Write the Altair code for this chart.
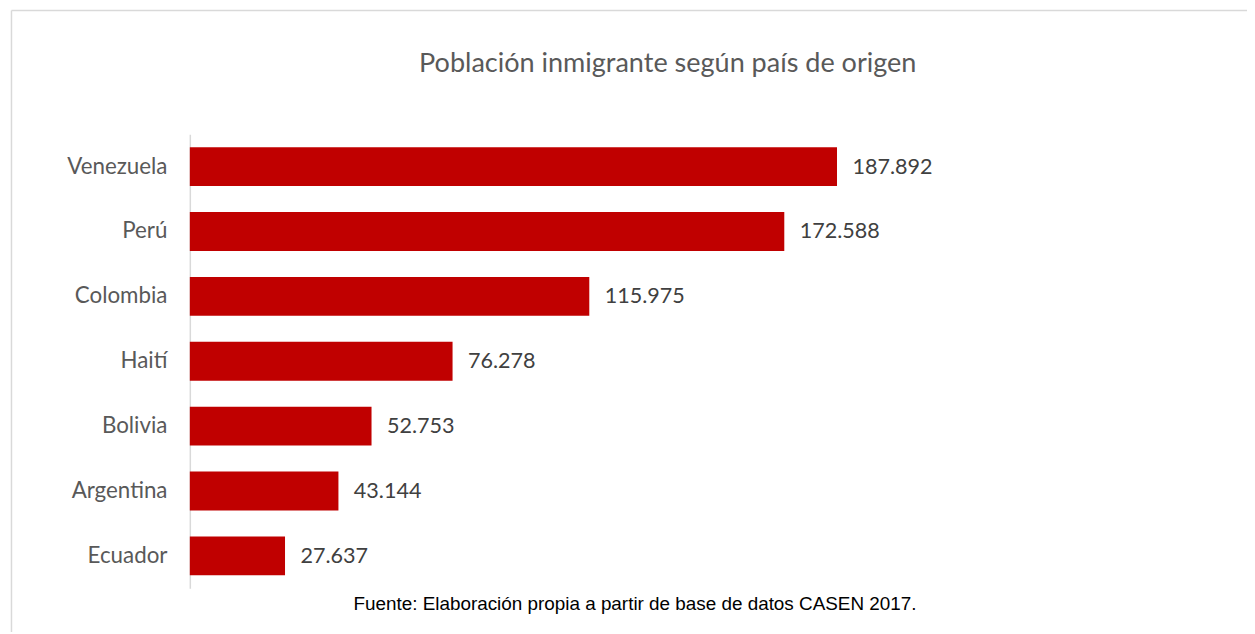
import altair as alt
import pandas as pd

paises = ["Venezuela", "Perú", "Colombia", "Haití", "Bolivia", "Argentina", "Ecuador"]
valores = [187892, 172588, 115975, 76278, 52753, 43144, 27637]
etiquetas = ["187.892", "172.588", "115.975", "76.278", "52.753", "43.144", "27.637"]
titulo = ["Población inmigrante según país de origen"]
fuente = ["Fuente: Elaboración propia a partir de base de datos CASEN 2017."]

df = pd.DataFrame({"pais": paises, "valor": valores, "etiqueta": etiquetas})

FONT = "Lato"
W, H = 1040, 457
PAD = {"left": 183, "top": 125, "right": 24, "bottom": 44}

x = alt.X("valor:Q", scale=alt.Scale(domain=[0, 300000]), axis=None)
y = alt.Y("pais:N", sort=paises,
          scale=alt.Scale(paddingInner=0.4, paddingOuter=0.2),
          axis=alt.Axis(title=None, ticks=False, labelFont=FONT, labelFontSize=22.5,
                        labelColor="#595959", labelPadding=23, domainColor="#D9D9D9",
                        domainWidth=1.5, grid=False))

bars = alt.Chart(df).mark_bar(color="#C00000").encode(x=x, y=y)
labels = alt.Chart(df).mark_text(align="left", baseline="middle", dx=15.5, font=FONT,
                                 fontSize=21.7, color="#404040").encode(
    x=x, y=alt.Y("pais:N", sort=paises), text="etiqueta:N")

title = alt.Chart(pd.DataFrame({"t": titulo})).mark_text(
    font=FONT, fontSize=27.2, color="#595959", align="center", baseline="middle").encode(
    x=alt.value(481), y=alt.value(-71), text="t:N")

footer = alt.Chart(pd.DataFrame({"t": fuente})).mark_text(
    font="Liberation Sans", fontSize=19, color="#000000", align="center", baseline="middle").encode(
    x=alt.value(448), y=alt.value(473), text="t:N")

frame_left = alt.Chart(pd.DataFrame({"a": [0]})).mark_rule(color="#D9D9D9", strokeWidth=1.5).encode(
    x=alt.value(-179.5), y=alt.value(-124.5), y2=alt.value(H + PAD["bottom"]))
frame_top = alt.Chart(pd.DataFrame({"a": [0]})).mark_rule(color="#D9D9D9", strokeWidth=1.5).encode(
    x=alt.value(-179.5), x2=alt.value(W + PAD["right"]), y=alt.value(-124.5))

chart = alt.layer(frame_left, frame_top, bars, labels, title, footer).properties(
    width=W, height=H, padding=PAD, background="white",
    autosize=alt.AutoSizeParams(type="none")
).configure_view(strokeWidth=0)

chart.save("out.html", embed_options={"renderer": "svg", "actions": False})
